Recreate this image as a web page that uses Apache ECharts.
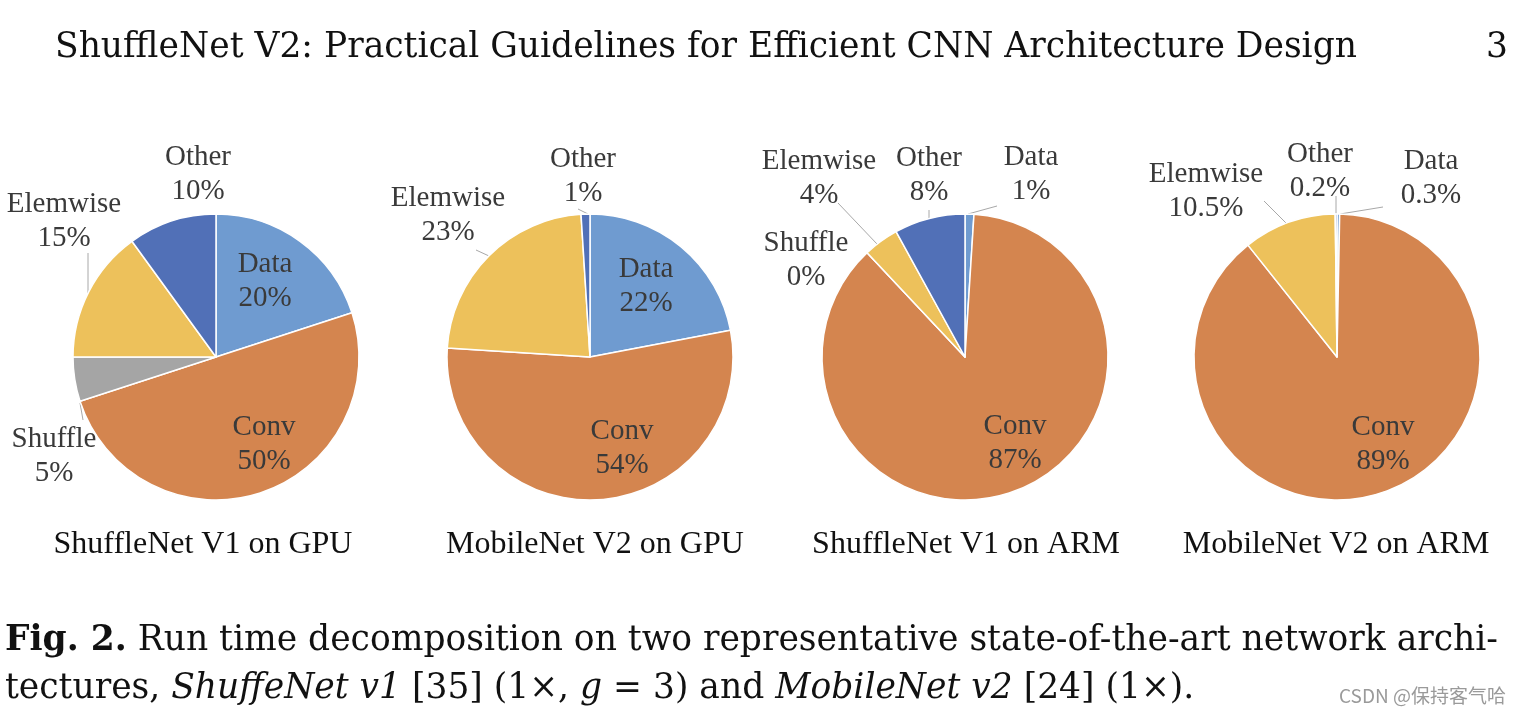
<!DOCTYPE html>
<html><head><meta charset="utf-8">
<script src="https://cdn.jsdelivr.net/npm/echarts@6/dist/echarts.min.js"></script>
<style>html,body{margin:0;padding:0;background:#fff}#c{width:1524px;height:716px}</style>
</head><body><div id="c"></div>
<script>
// ---- data ----
const categories = ['Data', 'Conv', 'Shuffle', 'Elemwise', 'Other'];
const pieTitles = ['ShuffleNet V1 on GPU', 'MobileNet V2 on GPU', 'ShuffleNet V1 on ARM', 'MobileNet V2 on ARM'];
const shufflenetGPU = [20, 50, 5, 15, 10];
const mobilenetGPU = [22, 54, null, 23, 1];
const shufflenetARM = [1, 87, 0, 4, 8];
const mobilenetARM = [0.3, 89, null, 10.5, 0.2];
const seriesValues = [shufflenetGPU, mobilenetGPU, shufflenetARM, mobilenetARM];

// ---- styles / layout ----
const colors = ['#6F9BD0', '#D4854F', '#A5A5A5', '#EDC15B', '#5170B7'];
const centers = [[216, 357], [590, 357], [965, 357], [1337, 357]];
const titleX = [203, 595, 966, 1336];
const R = 143;
// label block centre offsets from pie centre, and optional leader line (relative)
const labelLayouts = [
  {Data: [49, -76], Conv: [48, 87], Shuffle: [-162, 99, [[-136, 46], [-133, 63]]], Elemwise: [-152, -136, [[-128, -64], [-128, -104]]], Other: [-18, -183, [[-44, -80], [-44, -117]]]},
  {Data: [56, -71], Conv: [32, 91], Elemwise: [-142, -142, [[-101, -101], [-114, -107]]], Other: [-7, -181, [[-2, -143], [-12, -148]]]},
  {Data: [66, -183, [[3, -143], [32, -151]]], Conv: [50, 86], Shuffle: [-159, -97], Elemwise: [-146, -179, [[-88, -113], [-127, -154]]], Other: [-36, -182, [[-36, -138], [-36, -147]]]},
  {Data: [94, -179, [[3, -143], [46, -150]]], Conv: [46, 87], Elemwise: [-131, -166, [[-50, -133], [-73, -156]]], Other: [-17, -186, [[-1, -143], [-1, -161]]]}
];

const series = seriesValues.map((vals, si) => {
  const data = [];
  vals.forEach((v, i) => {
    if (v === null) return;
    const lay = labelLayouts[si][categories[i]];
    data.push({
      name: categories[i], value: v,
      itemStyle: {color: colors[i]},
      labelLine: {show: !!(lay && lay[2])}
    });
  });
  return {
    type: 'pie', center: centers[si], radius: R, startAngle: 90, clockwise: true,
    animation: false, silent: true, avoidLabelOverlap: false,
    itemStyle: {borderColor: '#ffffff', borderWidth: 1.5},
    label: {
      show: true, formatter: '{b}\n{c}%', color: '#3a3a3a',
      fontFamily: 'Liberation Serif', fontSize: 29, lineHeight: 34, align: 'center'
    },
    labelLine: {lineStyle: {color: '#a8a8a8', width: 1}},
    data: data,
    labelLayout: function (p) {
      const name = data[p.dataIndex].name;
      const lay = labelLayouts[si][name];
      const c = centers[si];
      const res = {x: c[0] + lay[0], y: c[1] + lay[1], align: 'center', verticalAlign: 'middle'};
      if (lay[2]) {
        const a = [c[0] + lay[2][0][0], c[1] + lay[2][0][1]];
        const b = [c[0] + lay[2][1][0], c[1] + lay[2][1][1]];
        res.labelLinePoints = [a, b, b];
      }
      return res;
    }
  };
});

const serif = '"DejaVu Serif"';
const fs = 34.5;
const graphics = [
  {type: 'text', left: 55, top: 31, style: {text: 'ShuffleNet V2: Practical Guidelines for Efficient CNN Architecture Design', fontSize: fs, fontFamily: serif, fill: '#111'}},
  {type: 'text', left: 1486, top: 31, style: {text: '3', fontSize: fs, fontFamily: serif, fill: '#111'}},
  {type: 'text', left: 5, top: 624, style: {
    text: '{b|Fig. 2.} Run time decomposition on two representative state-of-the-art network archi-',
    fontSize: fs, fontFamily: serif, fill: '#111',
    rich: {b: {fontWeight: 'bold', fontSize: fs, fontFamily: serif, fill: '#111'}}}},
  {type: 'text', left: 5, top: 672, style: {
    text: 'tectures, {i|ShuffeNet v1} [35] (1×, {i|g} = 3) and {i|MobileNet v2} [24] (1×).',
    fontSize: fs, fontFamily: serif, fill: '#111',
    rich: {i: {fontStyle: 'italic', fontSize: fs, fontFamily: serif, fill: '#111'}}}},
  {type: 'text', left: 1339, top: 686, style: {text: 'CSDN @保持客气哈', fontSize: 19, fontFamily: '"Noto Sans CJK SC"', fill: '#9a9a9a'}}
];
pieTitles.forEach((t, i) => {
  graphics.push({type: 'text', x: titleX[i], y: 545,
    style: {text: t, fontSize: 32, fontFamily: '"Liberation Serif"', fill: '#111', textAlign: 'center', textVerticalAlign: 'middle'}});
});

const chart = echarts.init(document.getElementById('c'), null, {renderer: 'canvas'});
chart.setOption({backgroundColor: '#ffffff', animation: false, series: series, graphic: graphics});
</script></body></html>
